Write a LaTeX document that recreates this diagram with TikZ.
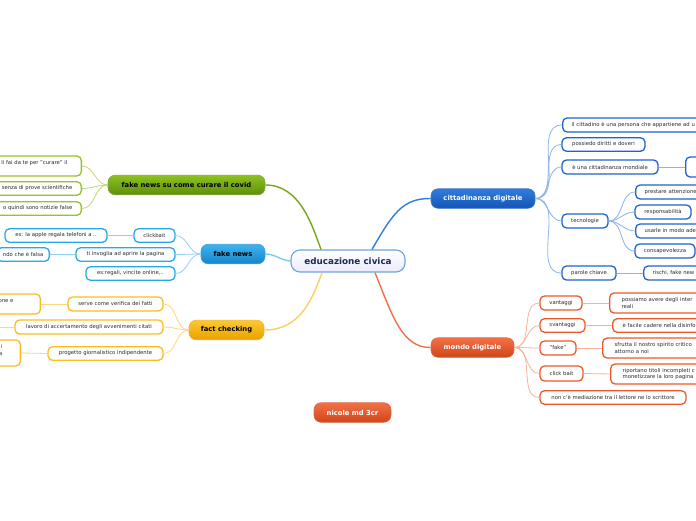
\documentclass[tikz,border=0pt]{standalone}
\usepackage{fontspec}
\setmainfont{DejaVu Sans}
\usetikzlibrary{calc}
\definecolor{gA}{HTML}{8DC21F}\definecolor{gB}{HTML}{5F8E0C}\definecolor{gL}{HTML}{94C32A}\definecolor{gC}{HTML}{BCD97A}
\definecolor{bA}{HTML}{3DB4EE}\definecolor{bB}{HTML}{1585CC}\definecolor{bL}{HTML}{28A9E6}\definecolor{bC}{HTML}{8FD3F3}
\definecolor{oA}{HTML}{FDC830}\definecolor{oB}{HTML}{E8A200}\definecolor{oL}{HTML}{FBBD1C}\definecolor{oC}{HTML}{FCD77F}
\definecolor{cA}{HTML}{2F7DDD}\definecolor{cB}{HTML}{1454B5}\definecolor{cL}{HTML}{1F63CC}\definecolor{cC}{HTML}{8CB3EA}
\definecolor{rA}{HTML}{F47145}\definecolor{rB}{HTML}{CF451A}\definecolor{rL}{HTML}{EA5A2A}\definecolor{rC}{HTML}{F7B39A}
\definecolor{rootB}{HTML}{6FA3D6}\definecolor{rootT}{HTML}{1B2A57}\definecolor{leafT}{HTML}{2A2A2A}
\begin{document}
\begin{tikzpicture}[x=1pt,y=-1pt,
 leaf/.style={rectangle, rounded corners=4.5pt, line width=1.3pt, fill=white, font=\fontsize{5.3}{6.8}\selectfont, text=leafT, inner xsep=9pt, inner ysep=0pt, minimum height=13.5pt},
 cat/.style={rectangle, rounded corners=7pt, line width=0.6pt, font=\fontsize{6.8}{8}\selectfont\bfseries, inner sep=0pt, minimum height=19.5pt},
 lk/.style={line width=0.8pt},
 mk/.style={line width=1.4pt},
]
\fill[white] (0,0) rectangle (696,520);
\useasboundingbox (0,0) rectangle (696,520);

% root and categories
\node[rectangle, rounded corners=9pt, line width=1.1pt, draw=rootB, top color=white, bottom color=black!18!blue!8, text=rootT, font=\fontsize{8.8}{10}\selectfont\bfseries, minimum width=114pt, minimum height=22pt, inner sep=0pt] (root) at (348,261) {educazione civica};
\node[cat, draw=gB!80, top color=gA, bottom color=gB, text=black, minimum width=157pt] (covid) at (186.5,185) {fake news su come curare il covid};
\node[cat, draw=bB!80, top color=bA, bottom color=bB, text=black, minimum width=64pt] (fn) at (233,254) {fake news};
\node[cat, draw=oB!80, top color=oA, bottom color=oB, text=black, minimum width=75pt] (fc) at (226.5,330) {fact checking};
\node[cat, draw=cB!80, top color=cA, bottom color=cB, text=white, minimum width=104pt] (cd) at (483,198.5) {cittadinanza digitale};
\node[cat, draw=rB!80, top color=rA, bottom color=rB, text=white, minimum width=83pt] (md) at (472.5,347.5) {mondo digitale};
\node[cat, draw=rB!80, top color=rA, bottom color=rB, text=white, minimum width=77pt] (nic) at (352.5,412.5) {nicole md 3cr};

% main connectors
\draw[mk,gA!85!black] ($(root.north)+(-27,0)$) .. controls (312,225) and (300,185) .. (covid.east);
\draw[mk,bC!80!bL] (root.west) .. controls (280,260) and (275,254) .. (fn.east);
\draw[mk,oC!70!oL] ($(root.south)+(-26,0)$) .. controls (312,300) and (300,330) .. (fc.east);
\draw[mk,cA] ($(root.north)+(24,0)$) .. controls (392,215) and (402,198) .. (cd.west);
\draw[mk,rA] ($(root.south)+(27,0)$) .. controls (392,315) and (402,348) .. (md.west);

% covid leaves
\node[leaf, draw=gL, anchor=east, align=right, inner xsep=14pt, minimum height=20pt] (cv1) at (82,166) {li fai da te per "curare" il\\\mbox{}};
\node[leaf, draw=gL, anchor=east] (cv2) at (82,188.5) {senza di prove scientifiche};
\node[leaf, draw=gL, anchor=east] (cv3) at (82,208.5) {o quindi sono notizie false};
\foreach \n in {cv1,cv2,cv3} \draw[lk,gC] (covid.west) to[out=180,in=0] (\n.east);

% fake news leaves
\node[leaf, draw=bL, minimum width=41pt, inner xsep=0pt] (cb) at (154.5,235.5) {clickbait};
\node[leaf, draw=bL, minimum width=102pt, inner xsep=0pt] (cbx) at (56,235.5) {es: la apple regala telefoni a ..};
\node[leaf, draw=bL, minimum width=99pt, inner xsep=0pt] (ti) at (125.5,254.5) {ti invoglia ad aprire la pagina};
\node[leaf, draw=bL, anchor=east, inner xsep=6pt] (tix) at (50,254.5) {ndo che è falsa};
\node[leaf, draw=bL, minimum width=89pt, inner xsep=0pt] (es) at (130.5,273.5) {es:regali, vincite online,..};
\foreach \n in {cb,ti,es} \draw[lk,bC] (fn.west) to[out=180,in=0] (\n.east);
\draw[lk,bC] (cb.west) -- (cbx.east);
\draw[lk,bC] (ti.west) -- (tix.east);

% fact checking leaves
\node[leaf, draw=oL, minimum width=95pt, inner xsep=0pt, minimum height=14pt] (sv) at (115.5,304) {serve come verifica dei fatti};
\node[leaf, draw=oL, anchor=east, align=left, inner xsep=27pt, minimum height=20pt] (svx) at (41,304) {one e\\\mbox{}};
\node[leaf, draw=oL, minimum width=148pt, inner xsep=0pt, minimum height=14pt] (la) at (89,327) {lavoro di accertamento degli avvenimenti citati};
\coordinate (laend) at (-10,327);
\node[leaf, draw=oL, minimum width=115pt, inner xsep=0pt] (pg) at (105.5,353.5) {progetto giornalistico indipendente};
\node[leaf, draw=oL, anchor=east, align=right, inner xsep=18pt, minimum height=26pt] (pgx) at (21,353) {i\\a\\\mbox{}};
\foreach \n in {sv,la,pg} \draw[lk,oC] (fc.west) to[out=180,in=0] (\n.east);
\draw[lk,oC] (sv.west) -- (svx.east);
\draw[lk,oC] (la.west) -- (laend);
\draw[lk,oC] (pg.west) -- (pgx.east);

% cittadinanza digitale leaves
\node[leaf, draw=cL, anchor=west, text width=180pt, align=left, minimum height=14pt] (c1) at (562,125) {il cittadino è una persona che appartiene ad u};
\node[leaf, draw=cL, minimum width=83pt, inner xsep=0pt] (c2) at (603.5,144.5) {possiedo diritti e doveri};
\node[leaf, draw=cL, minimum width=96pt, inner xsep=0pt, minimum height=14pt] (c3) at (610,167) {è una cittadinanza mondiale};
\node[leaf, draw=cL, anchor=west, minimum width=40pt, minimum height=20pt] (c3x) at (685,167) {};
\node[leaf, draw=cL, minimum width=46pt, inner xsep=0pt, minimum height=14pt] (tec) at (585,221) {tecnologie};
\node[leaf, draw=cL, anchor=west, text width=80pt, align=left, minimum height=14pt] (t1) at (635,192) {prestare attenzione};
\node[leaf, draw=cL, minimum width=56pt, inner xsep=0pt, minimum height=14pt] (t2) at (663,212) {responsabilità};
\node[leaf, draw=cL, anchor=west, text width=80pt, align=left, minimum height=14pt] (t3) at (635,231) {usarle in modo ade};
\node[leaf, draw=cL, minimum width=60pt, inner xsep=0pt, minimum height=14pt] (t4) at (665,251) {consapevolezza};
\node[leaf, draw=cL, minimum width=54pt, inner xsep=0pt, minimum height=14pt] (pc) at (589,273) {parole chiave};
\node[leaf, draw=cL, anchor=west, text width=80pt, align=left, minimum height=14pt] (pcx) at (643,273) {rischi, fake new};
\foreach \n in {c1,c2,c3,tec,pc} \draw[lk,cC] (cd.east) to[out=0,in=180] (\n.west);
\foreach \n in {t1,t2,t3,t4} \draw[lk,cC] (tec.east) to[out=0,in=180] (\n.west);
\draw[lk,cC] (c3.east) -- (c3x.west);
\draw[lk,cC] (pc.east) -- (pcx.west);

% mondo digitale leaves
\node[leaf, draw=rL, minimum width=42pt, inner xsep=0pt, minimum height=14pt] (va) at (561,303) {vantaggi};
\node[leaf, draw=rL, anchor=west, text width=120pt, align=left, inner xsep=12pt, minimum height=20pt] (vax) at (609,303) {possiamo avere degli inter\\reali};
\node[leaf, draw=rL, minimum width=45pt, inner xsep=0pt] (sva) at (562.5,325.5) {svantaggi};
\node[leaf, draw=rL, anchor=west, text width=120pt, align=left, inner xsep=10pt] (svx2) at (612,325.5) {è facile cadere nella disinfo};
\node[leaf, draw=rL, minimum width=36pt, inner xsep=0pt, minimum height=14pt] (fk) at (558,348) {"fake"};
\node[leaf, draw=rL, anchor=west, text width=120pt, align=left, inner xsep=12pt, minimum height=20pt] (fkx) at (602,348) {sfrutta il nostro spirito critico\\attorno a noi};
\node[leaf, draw=rL, minimum width=43pt, inner xsep=0pt, minimum height=15pt] (ck) at (561.5,373.5) {click bait};
\node[leaf, draw=rL, anchor=west, text width=120pt, align=left, inner xsep=12pt, minimum height=20pt] (ckx) at (610,374) {riportano titoli incompleti c\\monetizzare la loro pagina};
\node[leaf, draw=rL, minimum width=146pt, inner xsep=0pt] (nm) at (613,397.5) {non c'è mediazione tra il lettore ne lo scrittore};
\foreach \n in {va,sva,fk,ck,nm} \draw[lk,rC] (md.east) to[out=0,in=180] (\n.west);
\draw[lk,rC] (va.east) -- (vax.west);
\draw[lk,rC] (sva.east) -- (svx2.west);
\draw[lk,rC] (fk.east) -- (fkx.west);
\draw[lk,rC] (ck.east) -- (ckx.west);
\end{tikzpicture}
\end{document}
